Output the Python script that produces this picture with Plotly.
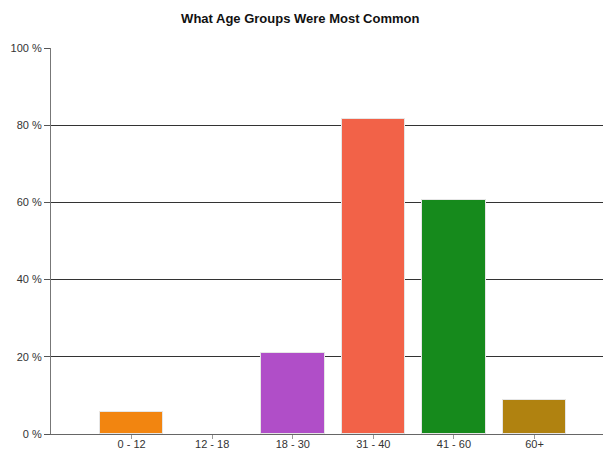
import plotly.graph_objects as go

categories = ["0 - 12", "12 - 18", "18 - 30", "31 - 40", "41 - 60", "60+"]
values = [5.8, 0, 21.1, 81.7, 60.5, 8.9]
colors = ["#F28510", "rgba(0,0,0,0)", "#B04EC8", "#F26248", "#168A1C", "#B08210"]
y_ticks = [0, 20, 40, 60, 80, 100]

positions = list(range(1, len(categories) + 1))
line_widths = [1 if v > 0 else 0 for v in values]

fig = go.Figure()
fig.add_trace(go.Bar(
    x=positions,
    y=values,
    width=0.79,
    marker=dict(color=colors, line=dict(color="#E6E6E6", width=line_widths)),
    hoverinfo="skip",
))

fig.update_layout(
    width=603, height=450,
    margin=dict(l=51, r=0, t=48, b=16),
    paper_bgcolor="white", plot_bgcolor="white",
    showlegend=False,
    font=dict(family="Liberation Sans, Arial, sans-serif", size=11, color="#333333"),
    title=dict(text="<b>What Age Groups Were Most Common</b>", x=0.498, xanchor="center",
               y=1 - 18 / 450, yanchor="middle", yref="container",
               font=dict(size=13, color="#111111")),
    bargap=0,
)
fig.update_xaxes(
    range=[0, 6.85], tickmode="array", tickvals=positions, ticktext=categories,
    showgrid=False, zeroline=False, showline=True, linecolor="#666666", linewidth=1,
    ticks="outside", ticklen=4, tickcolor="#999999", tickwidth=1,
    tickfont=dict(size=11, color="#333333"), automargin=False,
    ticklabelstandoff=-4,
)
fig.update_yaxes(
    range=[0, 100], tickmode="array", tickvals=y_ticks,
    ticktext=[f"{v} %" for v in y_ticks],
    showgrid=True, gridcolor="#333333", gridwidth=1, zeroline=False,
    showline=True, linecolor="#777777", linewidth=1,
    ticks="outside", ticklen=6, tickcolor="#555555",
    tickfont=dict(size=11, color="#333333"), automargin=False,
)

fig.write_html("out.html", config={"displayModeBar": False},
               post_script="document.body.style.margin='0';")
